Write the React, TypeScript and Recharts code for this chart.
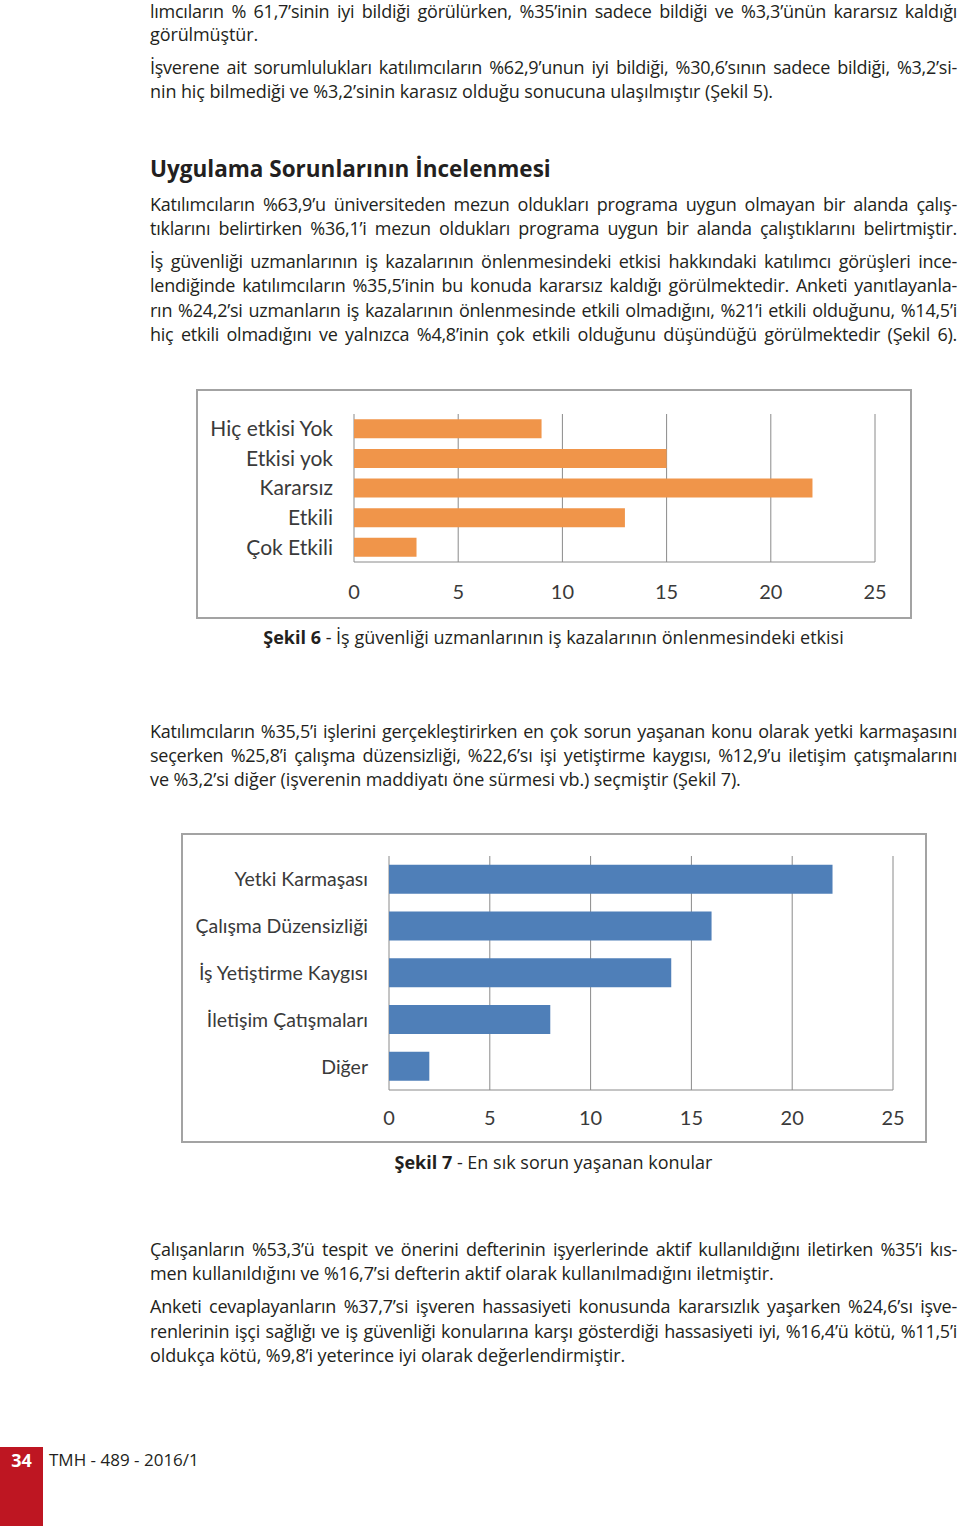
import React from "react";
import { BarChart, Bar, XAxis, YAxis, CartesianGrid } from "recharts";

// Şekil 6 - effect of OHS experts on accident prevention (counts)
const effectCategories = ["Hiç etkisi Yok", "Etkisi yok", "Kararsız", "Etkili", "Çok Etkili"];
const effectValues = [9, 15, 22, 13, 3];

// Şekil 7 - most common problem areas (counts)
const problemCategories = [
  "Yetki Karmaşası",
  "Çalışma Düzensizliği",
  "İş Yetiştirme Kaygısı",
  "İletişim Çatışmaları",
  "Diğer",
];
const problemValues = [22, 16, 14, 8, 2];

const axisTicks = [0, 5, 10, 15, 20, 25];

const bodyFont = "'Open Sans', Lato, sans-serif";
const chartFont = "Lato, 'Open Sans', sans-serif";
const ink = "#231f20";

type Line = { y: number; text: string; full?: boolean };

const textLines: Line[] = [
  { y: 10, text: "lımcıların % 61,7’sinin iyi bildiği görülürken, %35’inin sadece bildiği ve %3,3’ünün kararsız kaldığı", full: true },
  { y: 34, text: "görülmüştür." },
  { y: 67, text: "İşverene ait sorumlulukları katılımcıların %62,9’unun iyi bildiği, %30,6’sının sadece bildiği, %3,2’si-", full: true },
  { y: 91, text: "nin hiç bilmediği ve %3,2’sinin karasız olduğu sonucuna ulaşılmıştır (Şekil 5)." },
  { y: 204, text: "Katılımcıların %63,9’u üniversiteden mezun oldukları programa uygun olmayan bir alanda çalış-", full: true },
  { y: 228, text: "tıklarını belirtirken %36,1’i mezun oldukları programa uygun bir alanda çalıştıklarını belirtmiştir.", full: true },
  { y: 261, text: "İş güvenliği uzmanlarının iş kazalarının önlenmesindeki etkisi hakkındaki katılımcı görüşleri ince-", full: true },
  { y: 285, text: "lendiğinde katılımcıların %35,5’inin bu konuda kararsız kaldığı görülmektedir. Anketi yanıtlayanla-", full: true },
  { y: 310, text: "rın %24,2’si uzmanların iş kazalarının önlenmesinde etkili olmadığını, %21’i etkili olduğunu, %14,5’i", full: true },
  { y: 334, text: "hiç etkili olmadığını ve yalnızca %4,8’inin çok etkili olduğunu düşündüğü görülmektedir (Şekil 6).", full: true },
  { y: 731, text: "Katılımcıların %35,5’i işlerini gerçekleştirirken en çok sorun yaşanan konu olarak yetki karmaşasını", full: true },
  { y: 755, text: "seçerken %25,8’i çalışma düzensizliği, %22,6’sı işi yetiştirme kaygısı, %12,9’u iletişim çatışmalarını", full: true },
  { y: 779, text: "ve %3,2’si diğer (işverenin maddiyatı öne sürmesi vb.) seçmiştir (Şekil 7)." },
  { y: 1249, text: "Çalışanların %53,3’ü tespit ve önerini defterinin işyerlerinde aktif kullanıldığını iletirken %35’i kıs-", full: true },
  { y: 1273, text: "men kullanıldığını ve %16,7’si defterin aktif olarak kullanılmadığını iletmiştir." },
  { y: 1306, text: "Anketi cevaplayanların %37,7’si işveren hassasiyeti konusunda kararsızlık yaşarken %24,6’sı işve-", full: true },
  { y: 1331, text: "renlerinin işçi sağlığı ve iş güvenliği konularına karşı gösterdiği hassasiyeti iyi, %16,4’ü kötü, %11,5’i", full: true },
  { y: 1355, text: "oldukça kötü, %9,8’i yeterince iyi olarak değerlendirmiştir." },
];

const effectData = effectCategories.map((name, i) => ({ name, value: effectValues[i] }));
const problemData = problemCategories.map((name, i) => ({ name, value: problemValues[i] }));

const TextLine: React.FC<{ line: Line }> = ({ line }) => (
  <div
    style={{
      position: "absolute",
      left: 150,
      top: Math.max(0, line.y - 11),
      width: 807,
      height: 22,
      lineHeight: "22px",
      fontSize: 18,
      letterSpacing: line.full ? -0.25 : -0.1,
      wordSpacing: line.full ? -3 : 0,
      fontFamily: bodyFont,
      color: ink,
      whiteSpace: "nowrap",
      textAlign: line.full ? "justify" : "left",
      textAlignLast: line.full ? "justify" : "left",
    }}
  >
    {line.text}
  </div>
);

const Frame: React.FC<{ left: number; top: number; width: number; height: number }> = (p) => (
  <div
    style={{
      position: "absolute",
      left: p.left,
      top: p.top,
      width: p.width,
      height: p.height,
      boxSizing: "border-box",
      border: "2px solid #a3a3a3",
    }}
  />
);

const Caption: React.FC<{ y: number; bold: string; rest: string }> = ({ y, bold, rest }) => (
  <div
    style={{
      position: "absolute",
      left: 150,
      width: 807,
      top: y - 12,
      lineHeight: "24px",
      fontSize: 18,
      fontFamily: bodyFont,
      color: ink,
      textAlign: "center",
      whiteSpace: "nowrap",
    }}
  >
    <b>{bold}</b>
    {rest}
  </div>
);

export default function App() {
  return (
    <div style={{ position: "absolute", left: 0, top: 0, width: 960, height: 1526, background: "#fff", overflow: "hidden" }}>
      {textLines.map((l, i) => (
        <TextLine key={i} line={l} />
      ))}

      <div
        style={{
          position: "absolute",
          left: 150,
          top: 154,
          lineHeight: "30px",
          fontSize: 22.5,
          fontWeight: 700,
          fontFamily: bodyFont,
          color: ink,
          whiteSpace: "nowrap",
        }}
      >
        Uygulama Sorunlarının İncelenmesi
      </div>

      {/* Şekil 6 */}
      <Frame left={196} top={389} width={716} height={230} />
      <div style={{ position: "absolute", left: 196, top: 389 }}>
        <BarChart
          width={716}
          height={230}
          layout="vertical"
          data={effectData}
          margin={{ top: 25, right: 37, bottom: 17, left: 8 }}
          barCategoryGap="18%"
        >
          <CartesianGrid horizontal={false} stroke="#8a8a8a" />
          <XAxis
            type="number"
            domain={[0, 25]}
            ticks={axisTicks}
            height={40}
            axisLine={{ stroke: "#8a8a8a" }}
            tickLine={false}
            tickSize={0}
            tickMargin={23}
            tick={{ fontSize: 20, fill: "#3a3a3a", fontFamily: chartFont }}
          />
          <YAxis
            type="category"
            dataKey="name"
            width={150}
            interval={0}
            axisLine={false}
            tickLine={false}
            tickSize={0}
            tickMargin={21}
            tick={{ fontSize: 21, fill: "#3a3a3a", fontFamily: chartFont }}
          />
          <Bar dataKey="value" fill="#f0954a" isAnimationActive={false} />
        </BarChart>
      </div>
      <Caption y={637} bold="Şekil 6" rest=" - İş güvenliği uzmanlarının iş kazalarının önlenmesindeki etkisi" />

      {/* Şekil 7 */}
      <Frame left={181} top={833} width={746} height={310} />
      <div style={{ position: "absolute", left: 181, top: 833 }}>
        <BarChart
          width={746}
          height={310}
          layout="vertical"
          data={problemData}
          margin={{ top: 23, right: 34, bottom: 13, left: 8 }}
          barCategoryGap="18.5%"
        >
          <CartesianGrid horizontal={false} stroke="#8a8a8a" />
          <XAxis
            type="number"
            domain={[0, 25]}
            ticks={axisTicks}
            height={40}
            axisLine={{ stroke: "#8a8a8a" }}
            tickLine={false}
            tickSize={0}
            tickMargin={21}
            tick={{ fontSize: 20, fill: "#3a3a3a", fontFamily: chartFont }}
          />
          <YAxis
            type="category"
            dataKey="name"
            width={200}
            interval={0}
            axisLine={false}
            tickLine={false}
            tickSize={0}
            tickMargin={21}
            tick={{ fontSize: 19.5, fill: "#3a3a3a", fontFamily: chartFont }}
          />
          <Bar dataKey="value" fill="#4f7fb8" isAnimationActive={false} />
        </BarChart>
      </div>
      <Caption y={1162} bold="Şekil 7" rest=" - En sık sorun yaşanan konular" />

      {/* footer */}
      <div style={{ position: "absolute", left: 0, top: 1447, width: 43, height: 79, background: "#be1622" }} />
      <div
        style={{
          position: "absolute",
          left: 0,
          width: 43,
          top: 1448,
          lineHeight: "24px",
          textAlign: "center",
          color: "#fff",
          fontWeight: 700,
          fontSize: 18,
          fontFamily: bodyFont,
        }}
      >
        34
      </div>
      <div
        style={{
          position: "absolute",
          left: 49,
          top: 1448,
          lineHeight: "24px",
          fontSize: 17,
          color: ink,
          fontFamily: bodyFont,
          whiteSpace: "nowrap",
        }}
      >
        TMH - 489 - 2016/1
      </div>
    </div>
  );
}
